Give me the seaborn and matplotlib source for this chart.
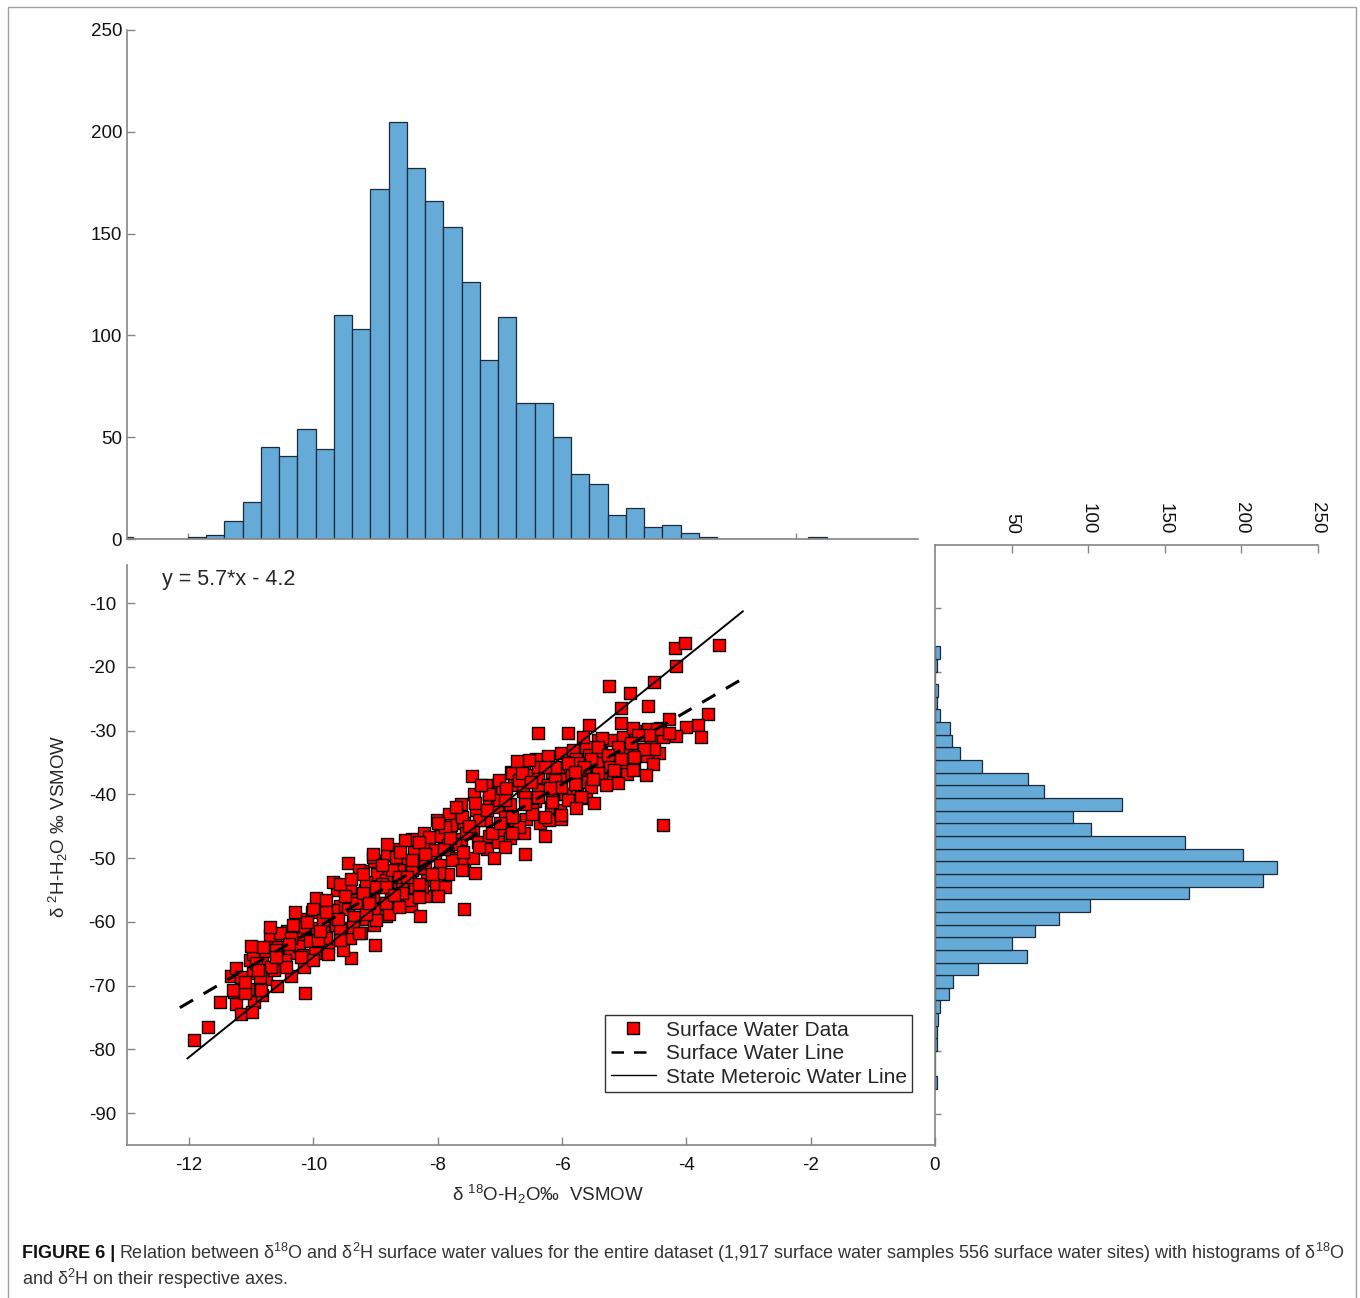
import numpy as np
import pandas as pd
import matplotlib
matplotlib.use('Agg')
import matplotlib.pyplot as plt
import seaborn as sns
from matplotlib.patches import Rectangle
from matplotlib.lines import Line2D

# ---- data ----
# top histogram: d18O counts, 0.3 permil bins starting at -13.2
d18o_bin_start = -13.2
d18o_bin_width = 0.3
d18o_counts = [1, 0, 0, 0, 1, 2, 9, 18, 45, 41, 54, 44, 110, 103, 172, 205, 182,
               166, 153, 126, 88, 109, 67, 67, 50, 32, 27, 12, 15, 6, 7, 3, 1,
               0, 0, 0, 0, 0, 1]

# right histogram: d2H counts, 2 permil bins starting at -86
d2h_bin_start = -86
d2h_bin_width = 2
d2h_counts = [1, 0, 0, 1, 1, 2, 3, 9, 12, 28, 60, 50, 65, 81, 101, 166, 214,
              223, 201, 163, 102, 90, 122, 71, 61, 31, 16, 11, 10, 3, 1, 2, 0, 1, 3]

# scatter samples (d18O, d2H), read point by point where they are separable
sample_pts = [
    (-11.93, -78.6), (-11.69, -76.5), (-11.50, -72.6), (-11.24, -72.8), (-11.17, -74.4),
    (-10.99, -74.2), (-10.14, -71.2), (-9.01, -63.6), (-9.96, -56.2), (-9.45, -50.8),
    (-9.69, -53.7), (-8.28, -59.1), (-11.25, -67.3), (-11.16, -68.6), (-11.29, -70.7),
    (-10.97, -65.0), (-10.70, -62.1), (-10.33, -60.5), (-10.17, -65.2), (-10.01, -57.9),
    (-9.80, -62.6), (-9.58, -61.0), (-9.40, -65.7), (-9.32, -57.1), (-9.10, -55.5),
    (-8.84, -57.1), (-8.57, -54.0), (-8.36, -54.5), (-9.05, -49.8), (-8.68, -49.8),
    (-10.60, -64.4), (-10.44, -67.0), (-10.84, -70.7), (-10.92, -66.5), (-11.10, -71.2),
    (-10.81, -63.9), (-10.54, -61.8), (-10.14, -60.8), (-9.93, -62.9), (-9.53, -64.4),
    (-9.24, -61.8), (-9.00, -59.7), (-8.78, -58.7), (-8.46, -56.6), (-8.25, -54.5),
    (-9.85, -59.7), (-9.69, -58.2), (-10.01, -66.0), (-9.77, -65.0), (-10.20, -65.5),
    (-10.36, -62.6), (-10.68, -67.0), (-10.86, -68.6), (-9.34, -59.2), (-9.16, -53.7),
    (-8.89, -54.0), (-8.62, -51.9), (-8.41, -51.9),
    (-7.45, -37.1), (-7.58, -57.9), (-6.60, -49.4), (-6.28, -46.5), (-6.01, -43.8),
    (-6.81, -36.7), (-6.38, -35.7), (-6.12, -37.8), (-7.18, -39.9), (-7.40, -41.4),
    (-7.61, -43.5), (-7.88, -45.1), (-8.14, -46.7), (-8.52, -47.2), (-8.81, -47.7),
    (-9.05, -49.3), (-9.26, -51.9), (-9.58, -54.0), (-9.80, -56.6), (-7.77, -50.3),
    (-7.40, -52.4), (-7.61, -51.9), (-7.98, -52.4), (-8.30, -54.0), (-8.57, -55.5),
    (-8.84, -57.1), (-9.16, -58.7), (-9.37, -60.8), (-9.58, -62.9), (-6.92, -48.2),
    (-7.13, -46.1), (-7.34, -48.2), (-6.70, -45.1), (-6.49, -42.5), (-6.17, -40.9),
    (-6.92, -43.5), (-7.02, -40.9), (-6.60, -40.4), (-6.70, -37.8), (-7.55, -46.1),
    (-8.04, -48.7), (-8.41, -50.3), (-8.73, -51.9), (-9.00, -54.5), (-8.62, -52.9),
    (-8.20, -50.8), (-7.72, -47.7), (-7.88, -54.5), (-8.30, -56.1), (-8.84, -54.5),
    (-9.21, -55.5), (-8.62, -57.6), (-9.26, -61.8), (-7.34, -44.0), (-6.38, -39.3),
    (-6.06, -35.7), (-5.96, -39.9),
    (-6.39, -30.4), (-5.90, -30.4), (-5.56, -29.1), (-5.66, -31.0), (-5.25, -23.0),
    (-4.90, -24.1), (-5.06, -26.4), (-5.05, -28.8), (-4.86, -29.6), (-4.61, -26.1),
    (-4.52, -22.4), (-4.16, -19.8), (-4.19, -17.1), (-4.03, -16.3), (-3.48, -16.5),
    (-3.65, -27.3), (-3.82, -29.1), (-3.76, -31.0), (-4.00, -29.4), (-4.28, -28.1),
    (-4.16, -30.8), (-4.28, -30.4), (-4.47, -29.7), (-4.60, -30.7), (-4.78, -30.7),
    (-5.36, -31.2), (-5.42, -32.6), (-5.10, -32.5), (-4.89, -32.0), (-4.52, -32.8),
    (-4.68, -32.8), (-4.84, -34.1), (-5.05, -34.4), (-5.26, -33.8), (-5.53, -34.4),
    (-5.74, -35.1), (-5.90, -35.1), (-6.12, -35.7), (-6.28, -35.7), (-6.54, -34.6),
    (-6.73, -34.7), (-4.54, -35.3), (-4.65, -36.9), (-4.86, -36.1), (-5.16, -36.2),
    (-5.42, -36.7), (-5.10, -38.2), (-5.29, -38.5), (-5.53, -38.8), (-5.80, -38.3),
    (-6.01, -38.8), (-5.69, -40.4), (-5.90, -40.9), (-6.17, -41.2), (-6.38, -40.4),
    (-5.64, -35.7), (-5.48, -41.4), (-4.38, -44.8), (-6.65, -36.7), (-7.02, -37.8),
    (-7.18, -39.9), (-6.92, -40.9), (-6.81, -43.5), (-6.49, -43.0), (-6.28, -43.5),
    (-6.01, -43.3), (-5.77, -42.2),
    (-8.0, -44.5), (-7.7, -42.0), (-7.5, -45.0), (-7.2, -42.5), (-7.0, -44.5),
    (-6.8, -46.0), (-7.9, -48.5), (-8.3, -47.5), (-8.6, -49.0), (-8.9, -51.0),
    (-9.2, -52.5), (-9.5, -56.0), (-9.8, -58.5), (-10.1, -60.0), (-10.4, -63.5),
    (-10.6, -65.5), (-10.9, -67.5), (-11.1, -69.5), (-7.1, -50.0), (-7.6, -49.0),
    (-8.1, -52.5), (-8.5, -53.0), (-8.0, -56.0), (-6.5, -38.0), (-6.2, -39.0),
    (-5.8, -36.5), (-5.5, -37.5), (-6.9, -39.0), (-7.3, -38.5), (-6.6, -41.5),
    (-9.9, -61.5), (-10.3, -58.5), (-9.6, -59.5), (-9.1, -57.0), (-8.7, -55.8),
    (-10.7, -60.8), (-11.0, -63.8), (-9.4, -53.2), (-8.2, -49.3), (-7.8, -46.8),
]

# the packed middle of the band, where squares overlap and are estimated
band_pts = [
    (-11.32, -68.5), (-11.28, -71.0),
    (-11.02, -66.0), (-10.97, -68.0), (-11.05, -70.5), (-10.95, -72.5),
    (-10.78, -64.5), (-10.83, -66.5), (-10.76, -69.0), (-10.82, -71.5),
    (-10.62, -62.5), (-10.57, -64.0), (-10.63, -67.5), (-10.58, -70.0),
    (-10.42, -61.5), (-10.38, -64.8), (-10.45, -66.0), (-10.36, -68.5),
    (-10.22, -59.5), (-10.18, -62.0), (-10.24, -63.8), (-10.16, -67.0),
    (-10.03, -58.5), (-9.97, -61.0), (-10.05, -63.0), (-9.98, -64.8),
    (-9.82, -57.5), (-9.78, -60.0), (-9.84, -61.5), (-9.76, -64.0),
    (-9.62, -55.0), (-9.57, -57.5), (-9.63, -60.5), (-9.58, -62.0),
    (-9.42, -54.5), (-9.38, -56.5), (-9.44, -58.0), (-9.36, -60.0), (-9.41, -62.5),
    (-9.22, -52.0), (-9.17, -55.0), (-9.23, -57.0), (-9.18, -59.5),
    (-9.02, -50.5), (-8.97, -52.5), (-9.04, -56.0), (-8.96, -58.0), (-9.03, -60.5),
    (-8.82, -49.5), (-8.78, -52.0), (-8.84, -53.5), (-8.76, -56.0), (-8.83, -59.0),
    (-8.62, -48.5), (-8.57, -50.5), (-8.63, -53.8), (-8.58, -56.5),
    (-8.42, -47.0), (-8.38, -49.0), (-8.44, -52.5), (-8.36, -55.0), (-8.43, -57.5),
    (-8.22, -46.0), (-8.17, -48.0), (-8.23, -51.5), (-8.18, -53.5), (-8.21, -56.0),
    (-8.02, -44.0), (-7.97, -46.5), (-8.04, -49.5), (-7.96, -51.0), (-8.03, -54.0),
    (-7.82, -43.0), (-7.78, -44.8), (-7.84, -48.0), (-7.76, -50.0), (-7.83, -52.5),
    (-7.62, -41.5), (-7.57, -44.5), (-7.63, -47.0), (-7.58, -50.5),
    (-7.42, -40.0), (-7.38, -42.5), (-7.44, -45.8), (-7.36, -47.5), (-7.43, -50.0),
    (-7.22, -38.5), (-7.17, -41.0), (-7.23, -44.0), (-7.18, -46.5), (-7.21, -48.5),
    (-7.02, -38.0), (-6.97, -39.5), (-7.04, -42.0), (-6.96, -45.5), (-7.03, -47.5),
    (-6.82, -36.5), (-6.78, -38.5), (-6.84, -41.5), (-6.76, -44.0), (-6.83, -46.8),
    (-6.62, -35.5), (-6.57, -37.0), (-6.63, -39.5), (-6.58, -43.8), (-6.61, -46.0),
    (-6.42, -34.5), (-6.38, -37.2), (-6.44, -41.0), (-6.36, -44.5),
    (-6.22, -34.0), (-6.17, -36.5), (-6.23, -38.5), (-6.18, -42.0), (-6.21, -44.0),
    (-6.02, -33.5), (-5.97, -36.0), (-6.04, -37.5), (-5.96, -40.0), (-6.03, -42.5),
    (-5.82, -33.0), (-5.78, -34.5), (-5.84, -37.0), (-5.76, -39.5),
    (-5.62, -32.5), (-5.57, -33.8), (-5.63, -36.0), (-5.58, -38.0), (-5.61, -40.5),
    (-5.42, -31.5), (-5.38, -33.5), (-5.44, -35.0), (-5.36, -37.5),
    (-5.22, -31.5), (-5.17, -34.0), (-5.23, -35.5), (-5.18, -37.0),
    (-5.02, -31.0), (-4.97, -33.0), (-5.04, -35.0), (-4.96, -36.8),
    (-4.82, -30.0), (-4.78, -32.8), (-4.84, -35.0),
    (-4.62, -29.8), (-4.57, -31.5), (-4.63, -34.0),
    (-4.42, -29.5), (-4.38, -31.0), (-4.44, -33.5),
]

# regression / reference lines: slope, intercept, x extent
swl_slope, swl_icpt = 5.7, -4.2
swl_x = [-12.15, -3.15]
smwl_slope, smwl_icpt = 7.85, 13.0
smwl_x = [-12.03, -3.09]

# ---- styling ----
sns.set_style('ticks')
plt.rcParams['font.family'] = ['Liberation Sans', 'DejaVu Sans']
plt.rcParams['mathtext.fontset'] = 'custom'
plt.rcParams['mathtext.rm'] = 'Liberation Sans'
plt.rcParams['mathtext.it'] = 'Liberation Sans:italic'
plt.rcParams['mathtext.default'] = 'rm'

BAR = '#66aad7'
SPINE = '#858585'
TICKFS = 13.5

W, H = 1360, 1298
fig = plt.figure(figsize=(W / 100, H / 100), dpi=100)


def px_axes(left, top, right, bottom):
    return fig.add_axes([left / W, 1 - bottom / H, (right - left) / W, (bottom - top) / H])


def style_axes(ax, spines):
    for side in ['left', 'right', 'top', 'bottom']:
        ax.spines[side].set_visible(side in spines)
        ax.spines[side].set_color(SPINE)
        ax.spines[side].set_linewidth(1.2)
    ax.tick_params(direction='in', length=6, width=1, color=SPINE, labelsize=TICKFS,
                   labelcolor='#111111')
    ax.set_facecolor('none')


ax_sc = px_axes(127, 565, 935, 1145)
ax_top = px_axes(127, 30, 918, 539)
ax_rt = px_axes(935, 545, 1318, 1146)

# top histogram
top_edges = [round(d18o_bin_start + d18o_bin_width * i, 2) for i in range(len(d18o_counts) + 1)]
top_df = pd.DataFrame({'d18o': [(a + b) / 2 for a, b in zip(top_edges[:-1], top_edges[1:])],
                       'n': d18o_counts})
sns.histplot(data=top_df, x='d18o', weights='n', bins=top_edges, ax=ax_top,
             color=BAR, edgecolor='#1b2b3b', linewidth=0.9, alpha=1)
ax_top.set_xlim(-13, 0)
ax_top.set_ylim(0, 250)
ax_top.set_xticks([-12, -10, -8, -6, -4, -2])
ax_top.set_xticklabels([])
ax_top.set_yticks([0, 50, 100, 150, 200, 250])
ax_top.set_xlabel('')
ax_top.set_ylabel('')
style_axes(ax_top, ['left', 'bottom'])
ax_top.tick_params(axis='x', length=4)

# right histogram
rt_edges = [d2h_bin_start + d2h_bin_width * i for i in range(len(d2h_counts) + 1)]
rt_df = pd.DataFrame({'d2h': [(a + b) / 2 for a, b in zip(rt_edges[:-1], rt_edges[1:])],
                      'n': d2h_counts})
sns.histplot(data=rt_df, y='d2h', weights='n', bins=rt_edges, ax=ax_rt,
             color=BAR, edgecolor='#1b2b3b', linewidth=0.9, alpha=1)
ax_rt.set_xlim(0, 250)
ax_rt.set_ylim(-95, 0)
ax_rt.xaxis.tick_top()
ax_rt.set_xticks([50, 100, 150, 200, 250])
ax_rt.set_xticklabels(['50', '100', '150', '200', '250'], rotation=-90)
ax_rt.set_yticks([-90, -80, -70, -60, -50, -40, -30, -20, -10])
ax_rt.set_yticklabels([])
ax_rt.set_xlabel('')
ax_rt.set_ylabel('')
style_axes(ax_rt, ['left', 'top'])
ax_rt.tick_params(axis='x', pad=8)
ax_rt.tick_params(axis='y', length=4)

# scatter + lines
all_pts = band_pts + sample_pts
xs = [p[0] for p in all_pts]
ys = [p[1] for p in all_pts]
sns.scatterplot(x=xs, y=ys, ax=ax_sc, marker='s', s=70, color='#ff0000',
                edgecolor='black', linewidth=1.0, zorder=2, legend=False)
sx = np.array(swl_x)
mx = np.array(smwl_x)
sns.lineplot(x=sx, y=swl_slope * sx + swl_icpt, ax=ax_sc, color='black',
             linestyle=(0, (5, 4)), linewidth=2.2, zorder=3)
sns.lineplot(x=mx, y=smwl_slope * mx + smwl_icpt, ax=ax_sc, color='black',
             linewidth=1.4, zorder=3)
ax_sc.set_xlim(-13, 0)
ax_sc.set_ylim(-95, -4)
ax_sc.set_xticks([-12, -10, -8, -6, -4, -2, 0])
ax_sc.set_xticklabels(['-12', '-10', '-8', '-6', '-4', '-2', '0'])
ax_sc.set_yticks([-90, -80, -70, -60, -50, -40, -30, -20, -10])
ax_sc.set_yticklabels(['-90', '-80', '-70', '-60', '-50', '-40', '-30', '-20', '-10'])
style_axes(ax_sc, ['left', 'bottom'])
ax_sc.tick_params(axis='x', pad=9)
ax_sc.tick_params(axis='y', pad=8)
ax_sc.set_xlabel(r'δ $^{18}$O-H$_{2}$O‰  VSMOW', fontsize=13.5, labelpad=6)
ax_sc.xaxis.label.set_x(0.521)
ax_sc.set_ylabel(r'δ $^{2}$H-H$_{2}$O ‰ VSMOW', fontsize=13.5)
ax_sc.yaxis.set_label_coords(-0.07, 0.55)
ax_sc.text(0.043, 0.975, 'y = 5.7*x - 4.2', transform=ax_sc.transAxes,
           fontsize=15.5, ha='left', va='center')

handles = [
    Line2D([], [], marker='s', linestyle='none', markersize=9, markerfacecolor='#ff0000',
           markeredgecolor='black', markeredgewidth=1.0),
    Line2D([], [], color='black', linestyle=(0, (5, 4)), linewidth=1.8),
    Line2D([], [], color='black', linewidth=1.0),
]
leg = ax_sc.legend(handles, ['Surface Water Data', 'Surface Water Line',
                             'State Meteroic Water Line'],
                   loc='lower right', bbox_to_anchor=(0.9715, 0.0914), borderaxespad=0,
                   fontsize=15, frameon=True, fancybox=False, handlelength=2.2,
                   handletextpad=0.45, borderpad=0.25, labelspacing=0.22)
leg.get_frame().set_edgecolor('black')
leg.get_frame().set_linewidth(1.0)

# outer frame
fig.add_artist(Rectangle((8 / W, -0.01), (1356 - 8) / W, 1.01 - 7 / H,
                         transform=fig.transFigure, fill=False,
                         edgecolor='#a0a0a0', linewidth=1.0))

# caption
cap_fam = ['Liberation Sans Narrow', 'Liberation Sans', 'DejaVu Sans']
renderer = fig.canvas.get_renderer()
t1 = fig.text(22 / W, 1 - 1253 / H, 'FIGURE 6 |', fontsize=13, fontweight='bold',
              family=cap_fam, color='#111111', va='center')
bb = t1.get_window_extent(renderer)
fig.text(bb.x1 / W + 4 / W, 1 - 1253 / H,
         r'Relation between δ$^{18}$O and δ$^{2}$H surface water values for the entire '
         r'dataset (1,917 surface water samples 556 surface water sites) with histograms of δ$^{18}$O',
         fontsize=13, family=cap_fam, color='#333333', va='center')
fig.text(22 / W, 1 - 1279 / H, r'and δ$^{2}$H on their respective axes.',
         fontsize=13, family=cap_fam, color='#333333', va='center')

fig.savefig('out.png', dpi=100)
